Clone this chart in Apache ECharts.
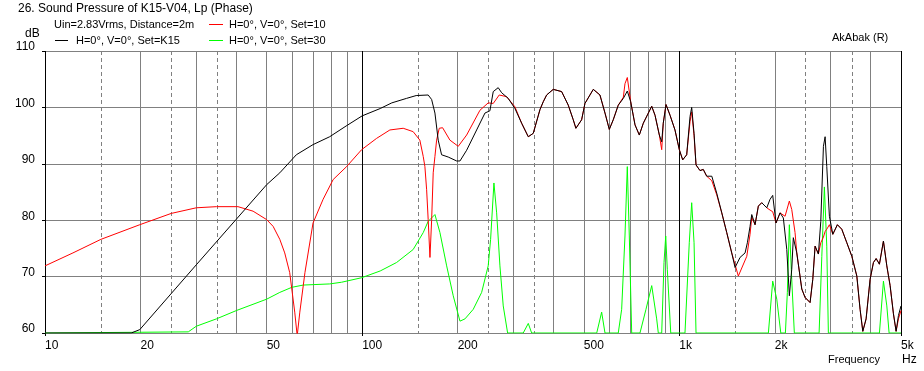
<!DOCTYPE html>
<html><head><meta charset="utf-8">
<script src="https://cdn.jsdelivr.net/npm/echarts@6/dist/echarts.min.js"></script>
<style>html,body{margin:0;padding:0;background:#fff}#c{width:924px;height:371px}</style>
</head><body><div id="c"></div>
<script>
// ---- data (frequency in Hz, level in dB) ----
const blackFreq = [10,18.7,19.9,30,40,50,55,62,70,79,89,100,114,124,138,148,161.5,165.6,169.6,173.7,178,186.8,198.6,203.4,213.5,229.6,243.9,252.8,259,268.5,275.3,288.8,303.2,318.3,334,346.3,363.6,372.4,381.7,400.4,425.6,446.5,463,472,492,504,535.5,562,583,601.5,619,642,666,685.5,702.6,725,748,770,818.5,838.4,865,880,890,908,935,969,1000,1025,1055,1068,1081,1094,1113,1129,1162,1190,1220,1266,1312,1361,1411,1463,1499,1554,1612,1639,1671,1692,1733,1775,1819,1887,1932,1970,2018,2078,2128,2182,2223,2262,2288,2346,2433,2492,2584,2635,2680,2745,2793,2847,2882,2917,2973,3048,3151,3253,3374,3499,3628,3715,3789,3881,3995,4093,4174,4275,4401,4511,4620,4733,4826,4908,5000];
const blackDb = [60,60,60.6,72.1,80.1,86.3,88.4,91.6,93.4,94.8,96.7,98.5,99.8,100.8,101.6,102.1,102.2,101.4,99.0,94.2,91.6,91.2,90.5,90.5,92.4,96.0,99.0,99.4,102.8,103.5,102.6,101.6,99.8,97.2,94.8,95.4,99.6,101.0,102.2,103.2,102.8,100.4,97.8,96.3,97.8,100.7,103.2,102.2,99.0,96.1,97.8,100.4,101.6,102.9,101.0,96.9,95.1,97.2,100.2,98.6,95.1,93.9,97.2,100.5,98.6,96.0,92.5,90.7,91.6,91.9,98.4,100.0,95.4,89.8,88.8,89.0,87.8,87.8,84.8,81.3,77.8,74.2,71.6,73.4,74.2,76.0,78.9,81.0,79.2,82.5,83.1,82.2,83.7,84.4,79.5,81.3,80.4,74.8,66.6,71.3,76.9,74.2,67.8,66.3,65.4,69.5,75.4,74.0,79.8,93.1,94.8,89.5,80.7,77.5,79.2,78.4,76.0,73.6,70.1,64.2,60.3,62.5,69.5,72.5,73.2,72.2,76.3,71.9,68.4,63.4,60.3,63.1,64.8];

const redFreq = [10,12.25,15,19.9,25,30,34.7,40.6,45.3,50,52.4,55,57,59.1,61.3,62.4,63.6,66,70,75.3,81,89.3,99.6,111,122.3,134.7,144.8,152,155.8,157.7,159.7,161.5,163.6,165.6,167.5,169.6,171.7,175,179.3,189.1,200.9,213.5,235.2,249.7,259,270.5,285.4,303.2,318.3,334,346.3,363.6,372.4,381.7,400.4,425.6,446.5,463,472,492,504,535.5,562,583,601.5,619,642,666,674,685.5,702.6,725,748,770,818.5,838.4,865,880,890,908,935,969,1000,1025,1055,1068,1081,1094,1113,1129,1162,1190,1220,1266,1312,1361,1411,1463,1535,1632,1671,1692,1733,1775,1819,1887,1932,1970,2018,2078,2155,2223,2262,2317,2346,2433,2492,2584,2635,2680,2745,2793,2847,2882,2917,2973,3048,3151,3253,3374,3499,3628,3715,3789,3881,3995,4093,4174,4275,4401,4511,4620,4733,4826,4908,5000];
const redDb = [71.9,74.2,76.6,79.2,81.2,82.2,82.4,82.4,81.6,80.1,78.9,76.6,74.2,70.7,63.7,59.5,63.7,70.7,79.5,83.7,87.2,89.5,92.5,94.5,96.0,96.3,95.7,94.2,91.3,89.5,85.4,80.1,73.4,80,88.4,91.3,94.2,96.3,96.4,94.2,93.1,95.1,99.5,100.8,100.7,102.2,101.9,100.1,97.2,94.8,95.4,99.6,101.0,102.2,103.2,102.8,100.4,97.8,96.3,97.8,100.7,103.2,102.2,99.0,96.1,97.8,100.4,101.8,104.2,105.3,101.0,96.9,95.1,97.2,100.2,98.6,95.1,92.5,97.2,100.5,98.6,96.0,92.5,90.7,91.6,91.9,97.5,99.2,95.0,89.8,88.8,89.0,87.8,87.0,84.5,81.3,77.8,74.2,70.1,73.6,77.5,80.5,79.2,82.5,83.1,82.2,81.8,81.5,79.5,81.3,80.7,83.4,81.9,77.8,74.2,67.8,66.3,65.4,69.5,75.4,74.0,76.0,77.0,78.0,78.4,79.2,77.5,79.2,78.4,76.0,73.6,70.1,64.2,60.3,62.5,69.5,72.5,73.2,72.2,76.3,71.9,68.4,63.4,60.3,62.5,64.0];

const greenFreq = [10,28.3,30,34.7,40.2,50,55,60,65.2,79,86.1,99.6,114,128.4,144.8,155.8,161.5,169.6,175.9,184.7,193.7,203.4,210.9,224,238.1,249.7,254.1,260.3,265.5,271.9,278.5,287.5,322,334,342.3,549,569,583,642,658,674,685.5,695.5,707.7,751.6,785,818.5,848.5,858.5,880,894.8,906,916.5,939.6,1042,1075,1094,1113,1129,1909,1970,2029,2089,2160,2191,2223,2262,2305,2759,2814,2867,2917,2951,4275,4401,4511,4586,5000];
const greenDb = [60,60.2,61.2,62.5,64.0,66.0,67.2,68.1,68.5,68.7,69.0,69.8,71.0,72.5,74.8,77.8,79.8,81.0,77.8,71.9,66.6,62.1,62.5,64.2,67.2,71.9,76.6,86.6,81.3,71.9,64.8,60,60,61.7,60,60,63.7,60,60,64.2,77.2,89.5,77.2,60,60,64.2,68.4,62.5,60,60,72.5,77.2,71.3,60,60,76.0,83.1,76.0,60,60,69.2,66.0,60,60,67.2,79.2,69.5,60,60,73.6,85.9,75.4,60,60,69.2,64.8,60,60];

// ---- ticks / grid ----
const xTickFreqs = [10,20,50,100,200,500,1000,2000,5000];
const xTickLabels = ['10','20','50','100','200','500','1k','2k','5k'];
const yTicks = [60,70,80,90,100,110];
const gridMajorFreqs = [10,100,1000,5000];
const gridSolidFreqs = [20,30,40,50,60,70,80,90,200,300,400,500,600,700,800,900,2000,3000,4000];
const gridDashedFreqs = [15,25,35,150,250,350,1500,2500,3500];

const FONT = '"Liberation Sans", Arial, sans-serif';
const lg = Math.log10;
const XMIN = lg(10), XMAX = lg(5000);
const pairs = (f, d) => f.map((v, i) => [lg(v), d[i]]);

function helperAxis(freqs, color, type) {
  return {
    type: 'value', gridIndex: 0, position: 'bottom', min: XMIN, max: XMAX,
    axisLine: {show: false}, axisLabel: {show: false},
    axisTick: {show: false, customValues: freqs.map(lg)},
    splitLine: {show: true, lineStyle: {color: color, width: 1, type: type}}
  };
}

const chart = echarts.init(document.getElementById('c'), null, {renderer: 'canvas'});
chart.setOption({
  animation: false,
  backgroundColor: '#ffffff',
  textStyle: {fontFamily: FONT},
  grid: {left: 45, top: 51, width: 856, height: 282, containLabel: false},
  xAxis: [
    {
      type: 'value', gridIndex: 0, position: 'bottom', min: XMIN, max: XMAX,
      axisLine: {show: false},
      axisTick: {show: true, length: 3, customValues: gridMajorFreqs.map(lg), lineStyle: {color: '#000'}},
      axisLabel: {
        show: true, customValues: xTickFreqs.map(lg), align: 'left', margin: 7,
        color: '#000', fontSize: 12, fontFamily: FONT,
        formatter: (v) => {
          let best = 0;
          xTickFreqs.forEach((f, i) => { if (Math.abs(lg(f) - v) < Math.abs(lg(xTickFreqs[best]) - v)) best = i; });
          return xTickLabels[best];
        }
      },
      splitLine: {show: true, lineStyle: {color: '#000', width: 1}}
    },
    helperAxis(gridSolidFreqs, '#808080', 'solid'),
    helperAxis(gridDashedFreqs, '#808080', [4, 3])
  ],
  yAxis: {
    type: 'value', min: 60, max: 110, interval: 10,
    axisLine: {show: false},
    axisTick: {show: true, length: 3, lineStyle: {color: '#000'}},
    axisLabel: {
      color: '#000', fontSize: 12, fontFamily: FONT, margin: 10,
      verticalAlign: 'bottom', lineHeight: 8,
      formatter: (v) => yTicks.includes(v) ? String(v) : ''
    },
    splitLine: {show: true, lineStyle: {color: '#808080', width: 1}}
  },
  series: [
    {name: 'H=0°, V=0°, Set=30', type: 'line', xAxisIndex: 0, data: pairs(greenFreq, greenDb),
     showSymbol: false, symbol: 'none', lineStyle: {color: '#00ff00', width: 1}, clip: true, z: 2},
    {name: 'H=0°, V=0°, Set=10', type: 'line', xAxisIndex: 0, data: pairs(redFreq, redDb),
     showSymbol: false, symbol: 'none', lineStyle: {color: '#ff0000', width: 1}, clip: true, z: 3},
    {name: 'H=0°, V=0°, Set=K15', type: 'line', xAxisIndex: 0, data: pairs(blackFreq, blackDb),
     showSymbol: false, symbol: 'none', lineStyle: {color: '#000000', width: 1}, clip: true, z: 4}
  ],
  graphic: [
    {type: 'text', left: 18, top: 3, style: {text: '26. Sound Pressure of K15-V04, Lp (Phase)', font: '12px ' + FONT, fill: '#000'}},
    {type: 'text', left: 54, top: 19, style: {text: 'Uin=2.83Vrms, Distance=2m', font: '11px ' + FONT, fill: '#000'}},
    {type: 'line', shape: {x1: 55, y1: 40.5, x2: 68, y2: 40.5}, style: {stroke: '#000', lineWidth: 1}},
    {type: 'text', left: 76, top: 35, style: {text: 'H=0°, V=0°, Set=K15', font: '11px ' + FONT, fill: '#000'}},
    {type: 'line', shape: {x1: 209, y1: 24.5, x2: 223, y2: 24.5}, style: {stroke: '#ff0000', lineWidth: 1}},
    {type: 'text', left: 229, top: 19, style: {text: 'H=0°, V=0°, Set=10', font: '11px ' + FONT, fill: '#000'}},
    {type: 'line', shape: {x1: 209, y1: 40.5, x2: 223, y2: 40.5}, style: {stroke: '#00ff00', lineWidth: 1}},
    {type: 'text', left: 229, top: 35, style: {text: 'H=0°, V=0°, Set=30', font: '11px ' + FONT, fill: '#000'}},
    {type: 'text', left: 25, top: 28, style: {text: 'dB', font: '12px ' + FONT, fill: '#000'}},
    {type: 'text', left: 832, top: 32, style: {text: 'AkAbak (R)', font: '11px ' + FONT, fill: '#000'}},
    {type: 'text', left: 828, top: 354, style: {text: 'Frequency', font: '11px ' + FONT, fill: '#000'}},
    {type: 'text', left: 902, top: 354, style: {text: 'Hz', font: '12px ' + FONT, fill: '#000'}}
  ]
});
</script>
</body></html>
